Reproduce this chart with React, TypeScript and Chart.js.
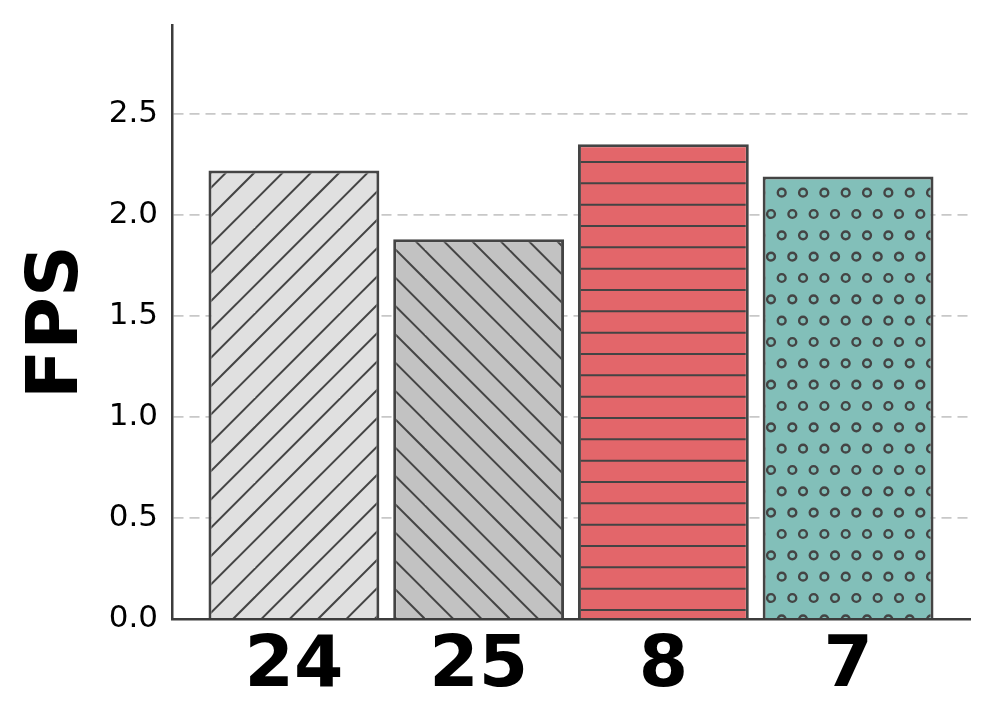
import React, { useEffect, useRef } from 'react';
import { Chart, registerables } from 'chart.js';

Chart.register(...registerables);

// ---- data ----
const CATEGORIES = ['24', '25', '8', '7'];
const FPS_VALUES = [2.22, 1.88, 2.35, 2.19];
const Y_TICKS = [0, 0.5, 1.0, 1.5, 2.0, 2.5];
const Y_MAX = 2.94;
const X_MIN = -0.66;
const X_MAX = 3.66;
const FILL_COLORS = ['#e0e0e0', '#c2c2c2', '#e3666a', '#82bfb9'];
const HATCHES = ['/', '\\', '-', 'o'];

const EDGE = '#444444';
const FONT = 'DejaVu Sans';

function makePattern(type: string, bg: string): CanvasPattern | string {
  let w = 85;
  let h = 85;
  if (type === '-') { w = 64; h = 64; }
  if (type === 'o') { w = 64; h = 128; }
  const c = document.createElement('canvas');
  c.width = w;
  c.height = h;
  const g = c.getContext('2d');
  if (!g) return bg;
  g.fillStyle = bg;
  g.fillRect(0, 0, w, h);
  g.strokeStyle = EDGE;
  g.lineWidth = 2;
  const s = 85 / 3;
  if (type === '/') {
    for (let k = -4; k <= 9; k++) {
      const cc = 2 + k * s;
      g.beginPath();
      g.moveTo(cc + 20, -20);
      g.lineTo(cc - 105, 105);
      g.stroke();
    }
  } else if (type === '\\') {
    for (let k = -6; k <= 6; k++) {
      const cc = 4.3 + k * s;
      g.beginPath();
      g.moveTo(cc - 20, -20);
      g.lineTo(cc + 105, 105);
      g.stroke();
    }
  } else if (type === '-') {
    const st = 64 / 3;
    for (let k = -1; k <= 4; k++) {
      const y = 12.7 + k * st;
      g.beginPath();
      g.moveTo(-5, y);
      g.lineTo(w + 5, y);
      g.stroke();
    }
  } else if (type === 'o') {
    const st = 64 / 3;
    g.lineWidth = 2.4;
    for (let r = -2; r <= 8; r++) {
      const y = 22 + r * st;
      const par = ((r % 2) + 2) % 2;
      const off = par === 0 ? 13.7 : 3;
      for (let k = -2; k <= 5; k++) {
        const x = off + k * st;
        g.beginPath();
        g.arc(x, y, 3.9, 0, Math.PI * 2);
        g.stroke();
      }
    }
  }
  const p = g.createPattern(c, 'repeat');
  return p || bg;
}

export default function App() {
  const canvasRef = useRef<HTMLCanvasElement | null>(null);

  useEffect(() => {
    const canvas = canvasRef.current;
    if (!canvas) return;
    const fills = HATCHES.map((h, i) => makePattern(h, FILL_COLORS[i]));

    const chart = new Chart(canvas, {
      type: 'bar',
      data: {
        datasets: [
          {
            label: 'FPS',
            data: FPS_VALUES.map((v, i) => ({ x: i, y: v })),
            backgroundColor: fills as any,
            borderColor: EDGE,
            borderWidth: 3,
            borderSkipped: 'start',
            barPercentage: 0.925,
            categoryPercentage: 1.0,
          },
        ],
      },
      options: {
        animation: false,
        responsive: false,
        devicePixelRatio: 1,
        layout: { padding: { top: 25, right: 26, left: 0, bottom: 0 } },
        plugins: {
          legend: { display: false },
          tooltip: { enabled: false },
        },
        scales: {
          x: {
            type: 'linear',
            offset: false,
            min: X_MIN,
            max: X_MAX,
            afterBuildTicks: (scale: any) => {
              scale.ticks = CATEGORIES.map((_, i) => ({ value: i }));
            },
            afterFit: (scale: any) => {
              scale.height = 108;
              scale.paddingLeft = 0;
              scale.paddingRight = 0;
            },
            grid: { display: false, drawTicks: false },
            border: { display: true, color: '#3c3c3c', width: 2.5, z: 1 },
            ticks: {
              autoSkip: false,
              maxRotation: 0,
              padding: 6,
              color: '#000000',
              font: { family: FONT, size: 71, weight: 'bold' },
              callback: (v: any) => CATEGORIES[Math.round(Number(v))] ?? '',
            },
          },
          y: {
            type: 'linear',
            min: 0,
            max: Y_MAX,
            afterBuildTicks: (scale: any) => {
              scale.ticks = Y_TICKS.map((v) => ({ value: v }));
            },
            afterFit: (scale: any) => {
              scale.width = 172;
              scale.paddingTop = 0;
              scale.paddingBottom = 0;
            },
            grid: { color: '#c8c8c8', lineWidth: 1.7, drawTicks: false },
            border: { display: true, color: '#3c3c3c', width: 2.5, dash: [10, 6] },
            title: {
              display: true,
              text: 'FPS',
              color: '#000000',
              font: { family: FONT, size: 72, weight: 'bold' },
              padding: { top: 15, bottom: 0 },
            },
            ticks: {
              padding: 14,
              color: '#000000',
              font: { family: FONT, size: 31 },
              callback: (v: any) => Number(v).toFixed(1),
            },
          },
        },
      } as any,
    });
    return () => chart.destroy();
  }, []);

  return (
    <div style={{ position: 'fixed', left: 0, top: 0, width: 996, height: 727, background: '#ffffff' }}>
      <canvas ref={canvasRef} width={996} height={727} style={{ display: 'block' }} />
    </div>
  );
}
